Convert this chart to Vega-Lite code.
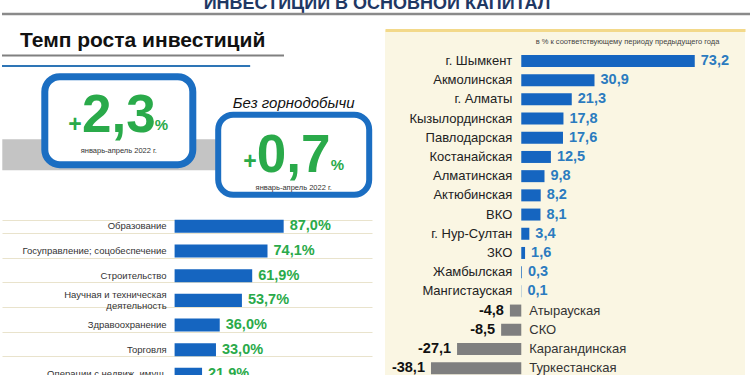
{
  "$schema": "https://vega.github.io/schema/vega-lite/v6.json",
  "padding": 0,
  "background": "white",
  "spacing": 14,
  "config": {
    "locale": {"number": {"decimal": ",", "thousands": " ", "grouping": [3], "currency": ["", ""], "minus": "-"}},
    "font": "Liberation Sans",
    "view": {"stroke": null}
  },
  "datasets": {
    "titles": [{"title": "ИНВЕСТИЦИИ В ОСНОВНОЙ КАПИТАЛ", "subtitle": "Темп роста инвестиций"}],
    "kpi": [
      {"measure": "Всего", "growth": 2.3, "period": "январь-апрель 2022 г."},
      {"measure": "Без горнодобычи", "growth": 0.7, "period": "январь-апрель 2022 г."}
    ],
    "sectors": [
      {"sector": "Образование", "growth": 0.870},
      {"sector": "Госуправление; соцобеспечение", "growth": 0.741},
      {"sector": "Строительство", "growth": 0.619},
      {"sector": "Научная и техническая\nдеятельность", "growth": 0.537},
      {"sector": "Здравоохранение", "growth": 0.360},
      {"sector": "Торговля", "growth": 0.330},
      {"sector": "Операции с недвиж. имущ.", "growth": 0.219}
    ],
    "regions": [
      {"region": "г. Шымкент", "growth": 73.2},
      {"region": "Акмолинская", "growth": 30.9},
      {"region": "г. Алматы", "growth": 21.3},
      {"region": "Кызылординская", "growth": 17.8},
      {"region": "Павлодарская", "growth": 17.6},
      {"region": "Костанайская", "growth": 12.5},
      {"region": "Алматинская", "growth": 9.8},
      {"region": "Актюбинская", "growth": 8.2},
      {"region": "ВКО", "growth": 8.1},
      {"region": "г. Нур-Султан", "growth": 3.4},
      {"region": "ЗКО", "growth": 1.6},
      {"region": "Жамбылская", "growth": 0.3},
      {"region": "Мангистауская", "growth": 0.1},
      {"region": "Атырауская", "growth": -4.8},
      {"region": "СКО", "growth": -8.5},
      {"region": "Карагандинская", "growth": -27.1},
      {"region": "Туркестанская", "growth": -38.1}
    ]
  },
  "vconcat": [
    {
      "width": 750,
      "height": 14,
      "data": {"name": "titles"},
      "layer": [
        {
          "mark": {"type": "text", "clip": true, "fontSize": 18, "fontWeight": "bold", "color": "#1f3864", "baseline": "alphabetic", "dy": 2},
          "encoding": {"text": {"field": "title"}}
        },
        {
          "mark": {"type": "rule", "color": "#8a8a8a", "strokeWidth": 2.5},
          "encoding": {"y": {"datum": 0, "type": "quantitative", "scale": {"domain": [0, 1]}, "axis": null}}
        }
      ]
    },
    {
      "spacing": 8,
      "hconcat": [
        {
          "spacing": 0,
          "vconcat": [
            {
              "width": 282,
              "height": 36,
              "data": {"name": "titles"},
              "layer": [
                {
                  "mark": {"type": "text", "align": "left", "baseline": "top", "dx": 18, "fontSize": 21, "fontWeight": "bold", "color": "#111111"},
                  "encoding": {
                    "text": {"field": "subtitle"},
                    "x": {"datum": 0, "type": "quantitative", "scale": {"domain": [0, 1]}, "axis": null},
                    "y": {"datum": 1, "type": "quantitative", "scale": {"domain": [0, 1]}, "axis": null}
                  }
                },
                {
                  "mark": {"type": "rule", "color": "#808080", "strokeWidth": 2},
                  "encoding": {"y": {"datum": 0.29, "type": "quantitative"}}
                },
                {
                  "mark": {"type": "rule", "color": "#2e75b6", "strokeWidth": 2},
                  "encoding": {
                    "y": {"datum": 0, "type": "quantitative"},
                    "x": {"datum": 0, "type": "quantitative"},
                    "x2": {"datum": 0.88}
                  }
                }
              ]
            },
            {
              "width": 375,
              "height": 147,
              "data": {"name": "kpi"},
              "encoding": {
                "x": {"field": "measure", "type": "nominal", "scale": {"type": "point", "domain": ["Всего", "Без горнодобычи"], "range": [116.8, 291.7], "padding": 0}, "axis": null},
                "y": {"field": "measure", "type": "nominal", "scale": {"type": "point", "domain": ["Всего", "Без горнодобычи"], "range": [53.7, 87.7], "padding": 0}, "axis": null}
              },
              "layer": [
                {
                  "transform": [{"filter": "datum.measure == 'Всего'"}],
                  "mark": {"type": "rect", "color": "#c4c4c4", "width": 233, "height": 31},
                  "encoding": {"y": {"datum": "Без горнодобычи"}}
                },
                {
                  "transform": [{"filter": "datum.measure == 'Всего'"}],
                  "layer": [
                    {"mark": {"type": "rect", "width": 148, "height": 88, "fill": "white", "stroke": "#1b6ec2", "strokeWidth": 7, "cornerRadius": 15}},
                    {"mark": {"type": "text", "text": "+", "align": "right", "baseline": "middle", "dx": -37, "dy": 4.5, "fontSize": 23, "fontWeight": "bold", "color": "#2aaa4a"}},
                    {"mark": {"type": "text", "align": "center", "baseline": "alphabetic", "dy": 11.5, "fontSize": 53, "fontWeight": "bold", "color": "#2aaa4a"},
                     "encoding": {"text": {"field": "growth", "type": "quantitative", "format": ".1f"}}},
                    {"mark": {"type": "text", "text": "%", "align": "left", "baseline": "alphabetic", "dx": 36, "dy": 9, "fontSize": 15, "fontWeight": "bold", "color": "#2aaa4a"}},
                    {"mark": {"type": "text", "align": "center", "baseline": "alphabetic", "dy": 32, "fontSize": 7.5, "color": "#333333"},
                     "encoding": {"text": {"field": "period"}}}
                  ]
                },
                {
                  "transform": [{"filter": "datum.measure == 'Без горнодобычи'"}],
                  "layer": [
                    {"mark": {"type": "rect", "width": 151, "height": 80, "fill": "white", "stroke": "#1b6ec2", "strokeWidth": 6, "cornerRadius": 15}},
                    {"mark": {"type": "text", "align": "center", "baseline": "alphabetic", "dy": -47, "fontSize": 15, "fontStyle": "italic", "color": "#111111"},
                     "encoding": {"text": {"field": "measure"}}},
                    {"mark": {"type": "text", "text": "+", "align": "right", "baseline": "middle", "dx": -37, "dy": 7, "fontSize": 23, "fontWeight": "bold", "color": "#2aaa4a"}},
                    {"mark": {"type": "text", "align": "center", "baseline": "alphabetic", "dy": 17, "fontSize": 53, "fontWeight": "bold", "color": "#2aaa4a"},
                     "encoding": {"text": {"field": "growth", "type": "quantitative", "format": ".1f"}}},
                    {"mark": {"type": "text", "text": "%", "align": "left", "baseline": "alphabetic", "dx": 37, "dy": 15, "fontSize": 15, "fontWeight": "bold", "color": "#2aaa4a"}},
                    {"mark": {"type": "text", "align": "center", "baseline": "alphabetic", "dy": 35, "fontSize": 7.5, "color": "#333333"},
                     "encoding": {"text": {"field": "period"}}}
                  ]
                }
              ]
            },
            {
              "width": 370,
              "height": {"step": 24.67},
              "data": {"name": "sectors"},
              "encoding": {
                "y": {"field": "sector", "type": "nominal", "sort": null,
                      "scale": {"paddingInner": 0.47, "paddingOuter": 0.235},
                      "axis": {"title": null, "labels": false, "ticks": false, "domain": false, "grid": true, "tickBand": "extent", "gridColor": "#e9e3cc", "gridWidth": 1}},
                "x": {"field": "growth", "type": "quantitative", "scale": {"domain": [-1.3767, 1.5745], "nice": false}, "axis": null}
              },
              "layer": [
                {"mark": {"type": "bar", "color": "#1565c0"}},
                {"transform": [{"filter": "indexof(datum.sector, '\\n') < 0"}],
                 "mark": {"type": "text", "align": "right", "baseline": "middle", "dx": -8, "fontSize": 9.5, "color": "#333333"},
                 "encoding": {"x": {"datum": 0}, "text": {"field": "sector"}}},
                {"transform": [{"filter": "indexof(datum.sector, '\\n') >= 0"}],
                 "mark": {"type": "text", "align": "right", "baseline": "middle", "dx": -8, "dy": -5.5, "fontSize": 9.5, "color": "#333333", "lineBreak": "\n", "lineHeight": 11},
                 "encoding": {"x": {"datum": 0}, "text": {"field": "sector"}}},
                {"mark": {"type": "text", "align": "left", "baseline": "middle", "dx": 6, "fontSize": 14.5, "fontWeight": "bold", "color": "#2aaa4a"},
                 "encoding": {"text": {"field": "growth", "type": "quantitative", "format": ".1%"}}}
              ]
            }
          ]
        },
        {
          "width": 360,
          "height": 357.6,
          "data": {"name": "regions"},
          "view": {"fill": "#faf6e3"},
          "encoding": {
            "y": {"field": "region", "type": "nominal", "sort": null, "scale": {"paddingInner": 0.375, "paddingOuter": 1, "align": 0.65}, "axis": null},
            "x": {"field": "growth", "type": "quantitative", "scale": {"domain": [-57.5, 94.4], "nice": false},
                  "axis": {"orient": "top", "labels": false, "ticks": false, "grid": false, "domain": true, "domainColor": "#f3d98a", "domainWidth": 3,
                           "minExtent": 0, "maxExtent": 0,
                           "title": "в % к соответствующему периоду предыдущего года", "titleFontSize": 7.5, "titleFontWeight": "normal", "titleColor": "#444444",
                           "titleX": 242, "titleY": 11, "titleAlign": "center", "titleBaseline": "middle", "titleAngle": 0}}
          },
          "layer": [
            {"mark": {"type": "bar"},
             "encoding": {"color": {"condition": {"test": "datum.growth < 0", "value": "#7f7f7f"}, "value": "#1565c0"}}},
            {"transform": [{"filter": "datum.growth >= 0"}],
             "mark": {"type": "text", "align": "right", "baseline": "middle", "dx": -9, "fontSize": 13, "color": "#222222"},
             "encoding": {"x": {"datum": 0}, "text": {"field": "region"}}},
            {"transform": [{"filter": "datum.growth < 0"}],
             "mark": {"type": "text", "align": "left", "baseline": "middle", "dx": 8, "fontSize": 13, "color": "#333333"},
             "encoding": {"x": {"datum": 0}, "text": {"field": "region"}}},
            {"transform": [{"filter": "datum.growth >= 0"}],
             "mark": {"type": "text", "align": "left", "baseline": "middle", "dx": 6, "fontSize": 14.5, "fontWeight": "bold", "color": "#2b7bbf"},
             "encoding": {"text": {"field": "growth", "type": "quantitative", "format": ".1f"}}},
            {"transform": [{"filter": "datum.growth < 0"}],
             "mark": {"type": "text", "align": "right", "baseline": "middle", "dx": -6, "fontSize": 14.5, "fontWeight": "bold", "color": "#111111"},
             "encoding": {"text": {"field": "growth", "type": "quantitative", "format": ".1f"}}}
          ]
        }
      ]
    }
  ]
}
